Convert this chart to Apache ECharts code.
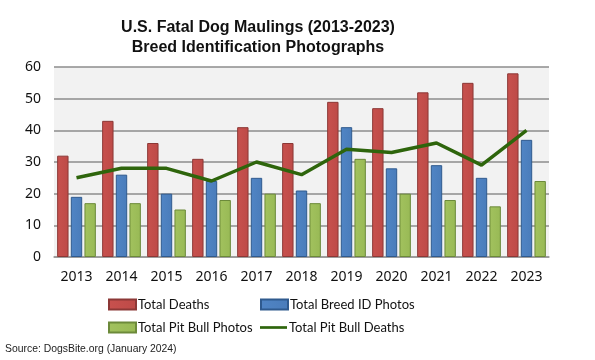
<!DOCTYPE html>
<html><head><meta charset="utf-8">
<script src="https://cdn.jsdelivr.net/npm/echarts@6/dist/echarts.min.js"></script>
<style>html,body{margin:0;padding:0;background:#fff}#c{width:595px;height:360px}</style>
</head><body><div id="c"></div>
<script>
var years = ['2013','2014','2015','2016','2017','2018','2019','2020','2021','2022','2023'];
var totalDeaths = [32,43,36,31,41,36,49,47,52,55,58];
var breedIdPhotos = [19,26,20,24,25,21,41,28,29,25,37];
var pitBullPhotos = [17,17,15,18,20,17,31,20,18,16,24];
var pitBullDeaths = [25,28,28,24,30,26,34,33,36,29,40];

var chart = echarts.init(document.getElementById('c'), null, {renderer:'canvas'});
function grad(a, b){
  return new echarts.graphic.LinearGradient(0,0,1,0,[{offset:0,color:a},{offset:1,color:b}]);
}
var labelFont = '"Noto Sans", "Open Sans", sans-serif';
var legFont = 'Lato, "Noto Sans", sans-serif';
var lineIcon = 'path://M0,4 L30,4 L30,7 L0,7 Z';
function leg(left, top, name, icon){
  return {left:left, top:top, itemWidth:27, itemHeight:10, data:[{name:name, icon:icon}],
    textStyle:{fontFamily:legFont, fontSize:13, color:'#111', padding:[0,0,0,-3]}};
}
chart.setOption({
  animation:false,
  backgroundColor:'#fff',
  title:{
    text:'U.S. Fatal Dog Maulings (2013-2023)\nBreed Identification Photographs',
    left:253, top:13, textAlign:'center',
    textStyle:{fontFamily:'"Liberation Sans", Arial, sans-serif', fontWeight:'bold', fontSize:16, lineHeight:20, color:'#111'}
  },
  grid:{left:54, right:46, top:67, height:190, backgroundColor:'#F2F2F2', show:true, borderWidth:0},
  legend:[
    leg(103, 293, 'Total Deaths', 'rect'),
    leg(255, 293, 'Total Breed ID Photos', 'rect'),
    leg(103, 316, 'Total Pit Bull Photos', 'rect'),
    leg(255, 316, 'Total Pit Bull Deaths', lineIcon)
  ],
  graphic:[{type:'text', left:5, top:344, style:{text:'Source: DogsBite.org (January 2024)', fontFamily:'"Liberation Sans", Arial, sans-serif', fontSize:10.4, fill:'#222'}}],
  xAxis:{type:'category', data:years,
    axisLine:{show:true, lineStyle:{color:'#999', width:1.5}},
    axisTick:{show:false},
    axisLabel:{fontFamily:labelFont, fontSize:14, color:'#111', margin:13}},
  yAxis:{type:'value', min:0, max:60, interval:10,
    axisLine:{show:false}, axisTick:{show:false},
    splitLine:{lineStyle:{color:'#8c8c8c', width:1.5}},
    axisLabel:{fontFamily:labelFont, fontSize:14, color:'#111', margin:13}},
  series:[
    {name:'Total Deaths', type:'bar', data:totalDeaths, barGap:'20%', barCategoryGap:'14%',
     itemStyle:{color:grad('#C8514E','#BD4A47'), borderColor:'#8C3836', borderWidth:1}},
    {name:'Total Breed ID Photos', type:'bar', data:breedIdPhotos,
     itemStyle:{color:grad('#5085C5','#4A7CBA'), borderColor:'#2F5A8E', borderWidth:1}},
    {name:'Total Pit Bull Photos', type:'bar', data:pitBullPhotos,
     itemStyle:{color:grad('#A2C25E','#98B955'), borderColor:'#6C8A3A', borderWidth:1}},
    {name:'Total Pit Bull Deaths', type:'line', data:pitBullDeaths, symbol:'none',
     lineStyle:{color:'#2E650C', width:3.5}, itemStyle:{color:'#2E650C'}}
  ]
});
</script></body></html>
